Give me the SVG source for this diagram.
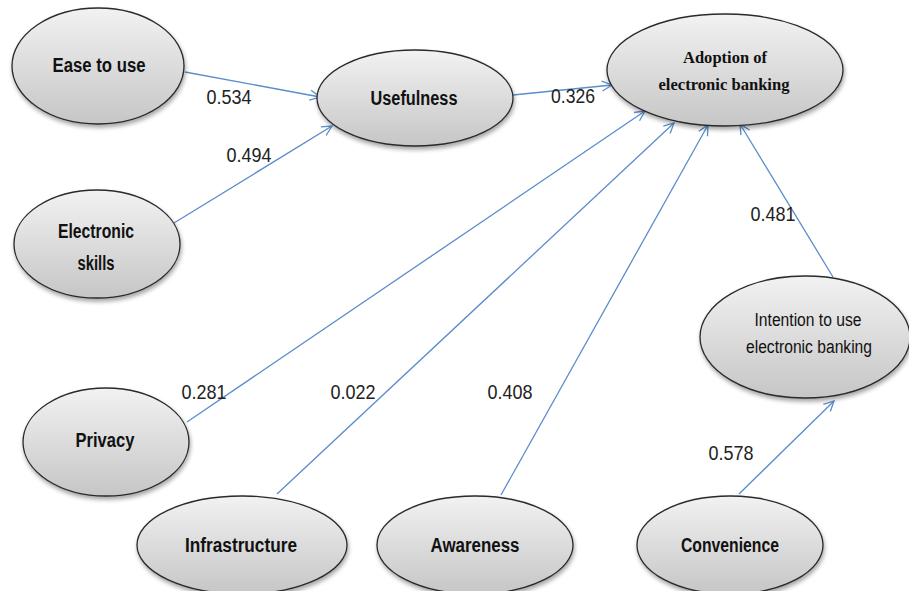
<svg xmlns="http://www.w3.org/2000/svg" width="909" height="591" viewBox="0 0 909 591">
<defs>
<linearGradient id="g" x1="0" y1="0" x2="0" y2="1">
<stop offset="0" stop-color="#f2f2f2"/>
<stop offset="1" stop-color="#c6c6c6"/>
</linearGradient>
<filter id="sh" x="-20%" y="-20%" width="140%" height="150%">
<feDropShadow dx="1" dy="3" stdDeviation="2" flood-color="#000" flood-opacity="0.35"/>
</filter>
<marker id="ar" viewBox="0 0 12 12" refX="11" refY="6" markerWidth="12" markerHeight="12" markerUnits="userSpaceOnUse" orient="auto">
<path d="M1,1 L11,6 L1,11" fill="none" stroke="#5b8ccc" stroke-width="1.3"/>
</marker>
</defs>
<style>
.n{fill:url(#g);stroke:#2a2a2a;stroke-width:1.3;filter:url(#sh)}
.t{font-family:"Liberation Sans",Arial,sans-serif;font-weight:bold;font-size:19.5px;fill:#111;text-anchor:middle}
.ts{font-family:"Liberation Serif","Times New Roman",serif;font-weight:bold;font-size:16.5px;fill:#111;text-anchor:middle}
.tr{font-family:"Liberation Sans",Arial,sans-serif;font-size:18px;fill:#111;text-anchor:middle}
.l{font-family:"Liberation Sans",Arial,sans-serif;font-size:20.5px;fill:#222;text-anchor:middle}
.c{stroke:#5b8ccc;stroke-width:1.3;fill:none;marker-end:url(#ar)}
</style>
<rect width="909" height="591" fill="#fff"/>
<g id="connectors">
<line class="c" x1="185" y1="72" x2="320" y2="97"/>
<line class="c" x1="174" y1="223" x2="332" y2="126"/>
<line class="c" x1="513" y1="95" x2="612" y2="85"/>
<line class="c" x1="187" y1="422" x2="645" y2="111"/>
<line class="c" x1="277" y1="494" x2="674" y2="123"/>
<line class="c" x1="501" y1="495" x2="708" y2="125"/>
<line class="c" x1="833" y1="277" x2="740" y2="124"/>
<line class="c" x1="739" y1="494" x2="834" y2="401"/>
</g>
<g id="labels">
<text class="l" x="229" y="104" textLength="45" lengthAdjust="spacingAndGlyphs">0.534</text>
<text class="l" x="249" y="162" textLength="45" lengthAdjust="spacingAndGlyphs">0.494</text>
<text class="l" x="573" y="103" textLength="44" lengthAdjust="spacingAndGlyphs">0.326</text>
<text class="l" x="773" y="221" textLength="45" lengthAdjust="spacingAndGlyphs">0.481</text>
<text class="l" x="204" y="399" textLength="45" lengthAdjust="spacingAndGlyphs">0.281</text>
<text class="l" x="353" y="399" textLength="45" lengthAdjust="spacingAndGlyphs">0.022</text>
<text class="l" x="510" y="399" textLength="45" lengthAdjust="spacingAndGlyphs">0.408</text>
<text class="l" x="731" y="460" textLength="45" lengthAdjust="spacingAndGlyphs">0.578</text>
</g>
<g id="ease"><ellipse class="n" cx="98" cy="66" rx="86" ry="58"/><text class="t" x="99" y="72" textLength="93" lengthAdjust="spacingAndGlyphs">Ease to use</text></g>
<g id="usefulness"><ellipse class="n" cx="415" cy="98" rx="98" ry="48"/><text class="t" x="414" y="105" textLength="87" lengthAdjust="spacingAndGlyphs">Usefulness</text></g>
<g id="adoption"><ellipse class="n" cx="725" cy="70" rx="118" ry="56"/><text class="ts" x="725" y="63" textLength="84" lengthAdjust="spacingAndGlyphs">Adoption of</text><text class="ts" x="724" y="90" textLength="131" lengthAdjust="spacingAndGlyphs">electronic banking</text></g>
<g id="eskills"><ellipse class="n" cx="97" cy="244" rx="83" ry="54"/><text class="t" x="96" y="238" textLength="76" lengthAdjust="spacingAndGlyphs">Electronic</text><text class="t" x="96" y="270" textLength="37" lengthAdjust="spacingAndGlyphs">skills</text></g>
<g id="intention"><ellipse class="n" cx="805" cy="337" rx="105" ry="61"/><text class="tr" x="808" y="326" textLength="107" lengthAdjust="spacingAndGlyphs">Intention to use</text><text class="tr" x="809" y="353" textLength="126" lengthAdjust="spacingAndGlyphs">electronic banking</text></g>
<g id="privacy"><ellipse class="n" cx="106" cy="442" rx="83" ry="54"/><text class="t" x="105" y="447" textLength="59" lengthAdjust="spacingAndGlyphs">Privacy</text></g>
<g id="infrastructure"><ellipse class="n" cx="242" cy="545" rx="105" ry="49"/><text class="t" x="241" y="552" textLength="112" lengthAdjust="spacingAndGlyphs">Infrastructure</text></g>
<g id="awareness"><ellipse class="n" cx="475" cy="545" rx="98" ry="49"/><text class="t" x="475" y="552" textLength="89" lengthAdjust="spacingAndGlyphs">Awareness</text></g>
<g id="convenience"><ellipse class="n" cx="730" cy="545" rx="93" ry="49"/><text class="t" x="730" y="552" textLength="98" lengthAdjust="spacingAndGlyphs">Convenience</text></g>
</svg>
